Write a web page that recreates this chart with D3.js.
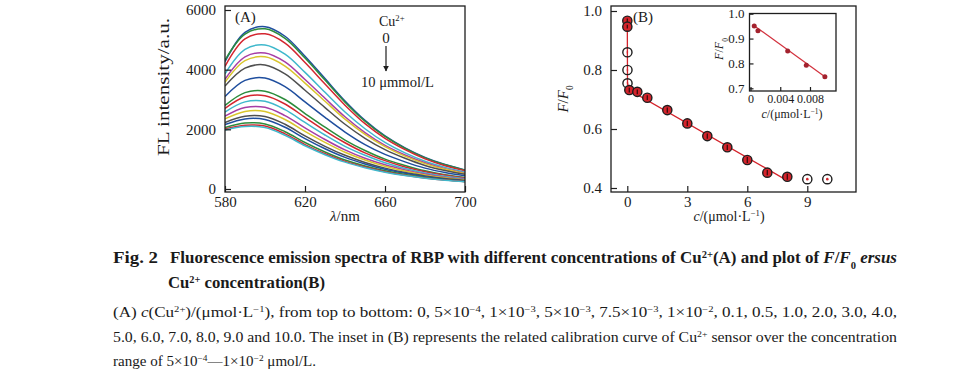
<!DOCTYPE html>
<html>
<head>
<meta charset="utf-8">
<script src="https://cdn.jsdelivr.net/npm/d3@7"></script>
<style>
  body { margin: 0; background: #fff; }
  svg { display: block; font-family: "Liberation Serif", "Times New Roman", serif; }
  text { fill: #1a1a1a; }
</style>
</head>
<body>
<div id="chart"></div>
<script>
// ---- panel A: emission spectra, one row per Cu2+ concentration (top to bottom)
var wavelength = [580, 590, 600, 610, 620, 630, 640, 650, 660, 670, 680, 690, 700];
var concLabels = ["0", "5e-4", "1e-3", "5e-3", "7.5e-3", "1e-2", "0.1", "0.5", "1.0",
                  "2.0", "3.0", "4.0", "5.0", "6.0", "7.0", "8.0", "9.0", "10.0"];
var intensity = [
    [4270, 5250, 5440, 5120, 4450, 3700, 2950, 2300, 1780, 1380, 1060, 820, 640],
    [4320, 5190, 5370, 5050, 4390, 3650, 2910, 2270, 1760, 1360, 1045, 810, 630],
    [4110, 5030, 5200, 4890, 4240, 3520, 2810, 2190, 1700, 1320, 1010, 780, 610],
    [3860, 4680, 4830, 4520, 3910, 3240, 2580, 2020, 1560, 1210, 930, 725, 570],
    [3680, 4430, 4560, 4260, 3670, 3040, 2420, 1890, 1460, 1140, 880, 680, 540],
    [3580, 4300, 4430, 4120, 3550, 2940, 2340, 1830, 1420, 1100, 850, 660, 520],
    [3450, 4050, 4160, 3860, 3310, 2730, 2170, 1700, 1320, 1030, 790, 620, 490],
    [3100, 3640, 3720, 3430, 2920, 2400, 1910, 1490, 1160, 910, 700, 550, 440],
    [2800, 3230, 3280, 3000, 2530, 2070, 1640, 1290, 1000, 790, 610, 480, 385],
    [2700, 3090, 3125, 2850, 2400, 1950, 1550, 1210, 950, 740, 580, 460, 365],
    [2580, 2920, 2940, 2660, 2230, 1810, 1430, 1130, 880, 690, 540, 430, 345],
    [2440, 2730, 2740, 2460, 2050, 1660, 1310, 1030, 810, 640, 500, 395, 320],
    [2350, 2600, 2600, 2330, 1930, 1560, 1230, 970, 760, 600, 470, 375, 305],
    [2230, 2440, 2430, 2170, 1780, 1430, 1130, 890, 700, 550, 440, 350, 285],
    [2160, 2350, 2330, 2070, 1690, 1350, 1060, 840, 660, 525, 415, 330, 270],
    [2060, 2210, 2180, 1920, 1560, 1240, 970, 770, 610, 485, 385, 310, 255],
    [2010, 2140, 2110, 1850, 1490, 1180, 925, 735, 580, 460, 370, 298, 246],
    [1980, 2095, 2060, 1800, 1450, 1150, 900, 715, 565, 450, 360, 290, 240]
];
var xTicksA = [580, 620, 660, 700];
var yTicksA = [0, 2000, 4000, 6000];

// ---- panel B: F/F0 against concentration
var concB  = [0.0005, 0.001, 0.005, 0.0075, 0.01, 0.1, 0.5, 1, 2, 3, 4, 5, 6, 7, 8, 9, 10];
var ratioB = [0.967, 0.947, 0.86, 0.80, 0.755, 0.732, 0.726, 0.706, 0.664, 0.619, 0.576, 0.538, 0.495, 0.452, 0.438, 0.43, 0.43];
var errB   = [0.008, 0.006, 0.004, 0.004, 0.005, 0.008, 0.008, 0.008, 0.009, 0.009, 0.009, 0.009, 0.01, 0.009, 0.01, 0.002, 0.002];
var fitConcB  = [0.0005, 0.01, 0.1, 8];
var fitRatioB = [0.967, 0.755, 0.732, 0.425];
var xTicksB = [0, 3, 6, 9];
var yTicksB = [0.4, 0.6, 0.8, 1.0];

// ---- inset of panel B
var concI  = [0.0005, 0.001, 0.005, 0.0075, 0.01];
var ratioI = [0.951, 0.931, 0.85, 0.793, 0.746];
var errI   = [0.006, 0.004, 0.003, 0.003, 0.005];
var fitConcI  = [0.0003, 0.0101];
var fitRatioI = [0.956, 0.744];
var xTicksI = [0, 0.004, 0.008];
var yTicksI = [0.7, 0.8, 0.9, 1.0];

var palette = ["#1f4e9e", "#2c8c3c", "#d42630", "#3fb8cc", "#a63ea6", "#d9c52c", "#4f4f4f"];
var ink = "#1e1e1e";

var svg = d3.select("#chart").append("svg")
    .attr("width", 977).attr("height", 373);
svg.append("rect").attr("width", 977).attr("height", 373).attr("fill", "#fff");

// text with italic / sup / sub pieces
function rich(g, x, y, parts, size, opts) {
    opts = opts || {};
    var t = g.append("text").attr("x", x).attr("y", y)
        .style("font-size", size + "px")
        .attr("text-anchor", opts.anchor || "start");
    if (opts.bold) t.style("font-weight", "bold");
    if (opts.len) t.attr("textLength", opts.len).attr("lengthAdjust", "spacingAndGlyphs");
    if (opts.rotate) t.attr("transform", "rotate(-90," + x + "," + y + ")");
    parts.forEach(function (p) {
        var s = p[0], k = p[1] || "";
        var ts = t.append("tspan").text(s);
        if (k.indexOf("it") >= 0) ts.style("font-style", "italic");
        if (k.indexOf("sup") >= 0) ts.attr("baseline-shift", "super").style("font-size", (size * 0.62) + "px");
        if (k.indexOf("sub") >= 0) ts.attr("baseline-shift", "sub").style("font-size", (size * 0.62) + "px");
    });
    return t;
}

function frame(g, x0, y0, x1, y1) {
    g.append("rect").attr("x", x0).attr("y", y0)
        .attr("width", x1 - x0).attr("height", y1 - y0)
        .attr("fill", "none").attr("stroke", ink).attr("stroke-width", 1.3);
}

function styleAxis(sel, size) {
    sel.select(".domain").remove();
    sel.selectAll(".tick line").attr("stroke", ink).attr("stroke-width", 1.2);
    sel.selectAll(".tick text").attr("fill", ink)
        .style("font-family", "Liberation Serif, serif").style("font-size", size + "px");
}

// ================= panel A =================
var A = {left: 225, right: 465, top: 6, bottom: 192};
var xA = d3.scaleLinear().domain([580, 700]).range([225, 465]);
var yA = d3.scaleLinear().domain([0, 6000]).range([189, 10]);
var gA = svg.append("g");

var lineA = d3.line()
    .x(function (d, i) { return xA(wavelength[i]); })
    .y(function (d) { return yA(d); })
    .curve(d3.curveCatmullRom.alpha(0.5));

gA.append("defs").append("clipPath").attr("id", "clipA")
  .append("rect").attr("x", A.left).attr("y", A.top)
  .attr("width", A.right - A.left).attr("height", A.bottom - A.top);

gA.append("g").attr("clip-path", "url(#clipA)")
  .selectAll("path").data(intensity).enter()
  .append("path")
    .attr("d", lineA)
    .attr("fill", "none")
    .attr("stroke", function (d, i) { return palette[i % palette.length]; })
    .attr("stroke-width", 1.5);

gA.append("g").attr("transform", "translate(0," + A.bottom + ")")
  .call(d3.axisBottom(xA).tickValues(xTicksA).tickSize(-6).tickPadding(4).tickFormat(d3.format("d")))
  .call(styleAxis, 15);
gA.append("g").attr("transform", "translate(" + A.left + ",0)")
  .call(d3.axisLeft(yA).tickValues(yTicksA).tickSize(-6).tickPadding(9).tickFormat(d3.format("d")))
  .call(styleAxis, 15);
frame(gA, A.left, A.top, A.right, A.bottom);

rich(gA, 169, 87, [["FL intensity/a.u."]], 16, {anchor: "middle", rotate: true, len: 138});
rich(gA, 345, 221, [["λ", "it"], ["/nm"]], 15, {anchor: "middle"});
rich(gA, 235, 22, [["(A)"]], 15);
rich(gA, 379, 26, [["Cu"], ["2+", "sup"]], 14);
rich(gA, 386, 43, [["0"]], 15, {anchor: "middle"});
rich(gA, 361, 87, [["10 μmmol/L"]], 15, {len: 73});

svg.append("defs").append("marker").attr("id", "arrowA")
    .attr("viewBox", "0 0 10 10").attr("refX", 9).attr("refY", 5)
    .attr("markerWidth", 5).attr("markerHeight", 7).attr("orient", "auto")
  .append("path").attr("d", "M0,0L10,5L0,10z").attr("fill", ink);
gA.append("line").attr("x1", 386).attr("x2", 386).attr("y1", 46).attr("y2", 71)
  .attr("stroke", ink).attr("stroke-width", 1.2).attr("marker-end", "url(#arrowA)");

// ================= panel B =================
var B = {left: 611, right: 856, top: 6, bottom: 192};
var xB = d3.scaleLinear().domain([0, 9]).range([627.3, 807.3]);
var yB = d3.scaleLinear().domain([0.4, 1.0]).range([188, 11]);
var gB = svg.append("g");
var red = "#d4232b";

gB.append("g").attr("transform", "translate(0," + B.bottom + ")")
  .call(d3.axisBottom(xB).tickValues(xTicksB).tickSize(-6).tickPadding(4).tickFormat(d3.format("d")))
  .call(styleAxis, 15);
gB.append("g").attr("transform", "translate(" + B.left + ",0)")
  .call(d3.axisLeft(yB).tickValues(yTicksB).tickSize(-6).tickPadding(9).tickFormat(d3.format(".1f")))
  .call(styleAxis, 15);

gB.append("path")
  .attr("d", d3.line().x(function (d, i) { return xB(fitConcB[i]); }).y(function (d) { return yB(d); })(fitRatioB))
  .attr("fill", "none").attr("stroke", red).attr("stroke-width", 1.3);

var openB = [2, 3, 4];
var ptsB = concB.map(function (c, i) { return {c: c, r: ratioB[i], e: errB[i], i: i}; });
var pg = gB.selectAll(".pt").data(ptsB).enter().append("g").attr("class", "pt");
pg.append("circle")
  .attr("cx", function (d) { return xB(d.c); })
  .attr("cy", function (d) { return yB(d.r); })
  .attr("r", 4.6)
  .attr("fill", function (d) {
      if (openB.indexOf(d.i) >= 0 || d.c > 8) return "none";
      return red;
  })
  .attr("stroke", ink).attr("stroke-width", 1.4);
pg.filter(function (d) { return d.c <= 8; }).append("line")
  .attr("x1", function (d) { return xB(d.c); }).attr("x2", function (d) { return xB(d.c); })
  .attr("y1", function (d) { return yB(d.r + d.e); }).attr("y2", function (d) { return yB(d.r - d.e); })
  .attr("stroke", function (d) { return openB.indexOf(d.i) >= 0 ? red : "#3a0d0d"; })
  .attr("stroke-width", 1.3);
pg.filter(function (d) { return d.c > 8; }).append("circle")
  .attr("cx", function (d) { return xB(d.c); })
  .attr("cy", function (d) { return yB(d.r); })
  .attr("r", 1.3).attr("fill", red);

frame(gB, B.left, B.top, B.right, B.bottom);
rich(gB, 568, 99, [["F", "it"], ["/"], ["F", "it"], ["0", "sub"]], 15, {anchor: "middle", rotate: true});
rich(gB, 729, 221, [["c", "it"], ["/(μmol·L"], ["−1", "sup"], [")"]], 14, {anchor: "middle"});
rich(gB, 633, 22, [["(B)"]], 15);

// ---- inset
var I = {left: 749.5, right: 836, top: 13.5, bottom: 91};
var xI = d3.scaleLinear().domain([0, 0.008]).range([750.5, 810]);
var yI = d3.scaleLinear().domain([0.7, 1.0]).range([88.3, 13.7]);
var gI = svg.append("g");
gI.append("rect").attr("x", I.left).attr("y", I.top)
  .attr("width", I.right - I.left).attr("height", I.bottom - I.top).attr("fill", "#fff");

gI.append("g").attr("transform", "translate(0," + I.bottom + ")")
  .call(d3.axisBottom(xI).tickValues(xTicksI).tickSize(-4).tickPadding(3)
        .tickFormat(function (d) { return d === 0 ? "0" : d3.format(".3f")(d); }))
  .call(styleAxis, 12);
gI.append("g").attr("transform", "translate(" + I.left + ",0)")
  .call(d3.axisLeft(yI).tickValues(yTicksI).tickSize(-4).tickPadding(5).tickFormat(d3.format(".1f")))
  .call(styleAxis, 13);

gI.append("path")
  .attr("d", d3.line().x(function (d, i) { return xI(fitConcI[i]); }).y(function (d) { return yI(d); })(fitRatioI))
  .attr("fill", "none").attr("stroke", "#d2303c").attr("stroke-width", 1.2);
var ptsI = concI.map(function (c, i) { return {c: c, r: ratioI[i], e: errI[i]}; });
gI.selectAll(".ie").data(ptsI).enter().append("line")
  .attr("x1", function (d) { return xI(d.c); }).attr("x2", function (d) { return xI(d.c); })
  .attr("y1", function (d) { return yI(d.r + d.e); }).attr("y2", function (d) { return yI(d.r - d.e); })
  .attr("stroke", "#9c1f2a").attr("stroke-width", 1);
gI.selectAll(".ip").data(ptsI).enter().append("circle")
  .attr("cx", function (d) { return xI(d.c); })
  .attr("cy", function (d) { return yI(d.r); })
  .attr("r", 2.5).attr("fill", "#a3222e");

frame(gI, I.left, I.top, I.right, I.bottom);
rich(gI, 723, 49, [["F", "it"], ["/"], ["F", "it"], ["0", "sub"]], 12, {anchor: "middle", rotate: true});
rich(gI, 792, 118, [["c", "it"], ["/(μmol·L"], ["−1", "sup"], [")"]], 12, {anchor: "middle"});

// ================= caption =================
var gC = svg.append("g");
rich(gC, 113, 263, [["Fig. 2"]], 16, {bold: true, len: 45});
rich(gC, 170, 263, [["Fluorescence emission spectra of RBP with different concentrations of Cu"], ["2+", "sup"],
    ["(A) and plot of "], ["F", "it"], ["/"], ["F", "it"], ["0", "sub"], [" ersus", "it"]], 16, {bold: true, len: 727});
rich(gC, 168, 288, [["Cu"], ["2+", "sup"], [" concentration(B)"]], 16, {bold: true, len: 157});
rich(gC, 113, 317, [["(A) "], ["c", "it"], ["(Cu"], ["2+", "sup"], [")/(μmol·L"], ["−1", "sup"],
    ["), from top to bottom: 0, 5×10"], ["−4", "sup"], [", 1×10"], ["−3", "sup"], [", 5×10"], ["−3", "sup"],
    [", 7.5×10"], ["−3", "sup"], [", 1×10"], ["−2", "sup"], [", 0.1, 0.5, 1.0, 2.0, 3.0, 4.0,"]], 14, {len: 784});
rich(gC, 113, 342, [["5.0, 6.0, 7.0, 8.0, 9.0 and 10.0. The inset in (B) represents the related calibration curve of Cu"],
    ["2+", "sup"], [" sensor over the concentration"]], 14, {len: 784});
rich(gC, 113, 366, [["range of 5×10"], ["−4", "sup"], ["—1×10"], ["−2", "sup"], [" μmol/L."]], 14, {len: 203});
</script>
</body>
</html>
